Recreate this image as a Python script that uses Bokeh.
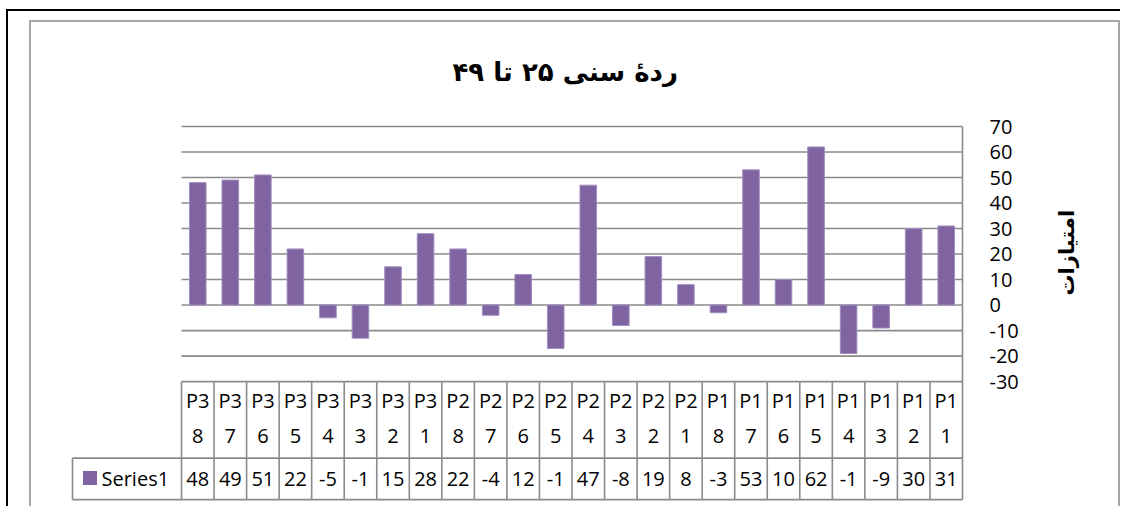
import math
from bokeh.plotting import figure
from bokeh.models import Range1d, FixedTicker
from bokeh.core.properties import value
from bokeh.embed import file_html
from bokeh.resources import INLINE

# ---------------- data ----------------
title_text = "ردهٔ سنی ۲۵ تا ۴۹"
y_label = "امتیازات"
series_name = "Series1"
categories = ["P38", "P37", "P36", "P35", "P34", "P33", "P32", "P31",
              "P28", "P27", "P26", "P25", "P24", "P23", "P22", "P21",
              "P18", "P17", "P16", "P15", "P14", "P13", "P12", "P11"]
scores = [48, 49, 51, 22, -5, -13, 15, 28,
          22, -4, 12, -17, 47, -8, 19, 8,
          -3, 53, 10, 62, -19, -9, 30, 31]
y_ticks = [-30, -20, -10, 0, 10, 20, 30, 40, 50, 60, 70]

# ---------------- styling / layout ----------------
W, H = 1120, 506
PURPLE = "#8064A2"
LINE = "#8a8a8a"
LW = 1.6
TXT_FONT = "Open Sans"
AR_FONT = "DejaVu Sans"

n = len(categories)
xs = [i + 0.5 for i in range(n)]
y_min, y_max = y_ticks[0], y_ticks[-1]
PX_X = 32.54          # pixels per category
PX_Y = 2.551          # pixels per score unit
legend_left = -(181 - 72) / PX_X
BORDER_L, BORDER_R, BORDER_T, BORDER_B = 70, 156, 89, 5
frame_h = H - BORDER_T - BORDER_B
y_end = y_max + (126 - BORDER_T) / PX_Y
y_start = y_end - frame_h / PX_Y

# data-table rows, expressed below the value axis
row_split = y_min - 76.5 / PX_Y
tab_bottom = y_min - 118 / PX_Y
hdr1_y = y_min - 19 / PX_Y
hdr2_y = y_min - 54.5 / PX_Y
val_y = y_min - 97 / PX_Y

p = figure(width=W, height=H, output_backend="svg", toolbar_location=None,
           x_range=Range1d(legend_left - 2 / PX_X, n + 2 / PX_X),
           y_range=Range1d(y_start, y_end),
           x_axis_location=None, y_axis_location="right",
           min_border_left=BORDER_L, min_border_right=BORDER_R,
           min_border_top=BORDER_T, min_border_bottom=BORDER_B)
p.outline_line_color = None
p.xgrid.visible = False
p.ygrid.visible = False
p.background_fill_color = None
p.border_fill_color = None

p.title.text = title_text
p.title.align = "left"
p.title.offset = 382
p.title.text_font = AR_FONT
p.title.text_font_style = "bold"
p.title.text_font_size = "26px"
p.title.text_color = "black"
if "standoff" in p.title.properties():
    p.title.standoff = 6

ax = p.yaxis[0]
ax.ticker = FixedTicker(ticks=y_ticks)
ax.major_label_overrides = {t: str(t) for t in y_ticks}
ax.axis_line_color = None
ax.major_tick_line_color = None
ax.minor_tick_line_color = None
ax.major_tick_out = 0
ax.major_tick_in = 0
ax.major_label_standoff = 25
ax.major_label_text_font = TXT_FONT
ax.major_label_text_font_size = "20px"
ax.major_label_text_color = "black"
ax.axis_label = y_label
ax.axis_label_standoff = 45
ax.axis_label_text_font = AR_FONT
ax.axis_label_text_font_style = "bold"
ax.axis_label_text_font_size = "21px"
ax.axis_label_text_color = "black"
if "axis_label_orientation" in ax.properties():
    try:
        ax.axis_label_orientation = math.pi / 2
    except Exception:
        pass

# gridlines over the plot area
p.segment(x0=[0] * len(y_ticks), x1=[n] * len(y_ticks), y0=y_ticks, y1=y_ticks,
          line_color=LINE, line_width=LW)
# right edge of plot area and table
p.segment(x0=[n], x1=[n], y0=[y_max], y1=[tab_bottom], line_color=LINE, line_width=LW)
# table column separators
p.segment(x0=list(range(n)), x1=list(range(n)), y0=[y_min] * n, y1=[tab_bottom] * n,
          line_color=LINE, line_width=LW)
# table row lines and legend cell edge
p.segment(x0=[legend_left, legend_left], x1=[n, n], y0=[row_split, tab_bottom],
          y1=[row_split, tab_bottom], line_color=LINE, line_width=LW)
p.segment(x0=[legend_left], x1=[legend_left], y0=[row_split], y1=[tab_bottom],
          line_color=LINE, line_width=LW)

# bars
p.vbar(x=xs, bottom=0, top=scores, width=0.51, fill_color=PURPLE,
       line_color="#a08fc0", line_width=1)

common = dict(text_align="center", text_baseline="middle", text_font=value(TXT_FONT),
              text_font_size="20px", text_color="black")
# header: narrow cells wrap "P38" as "P3" / "8"
p.text(x=xs, y=[hdr1_y] * n, text=[c[:2] for c in categories], **common)
p.text(x=xs, y=[hdr2_y] * n, text=[c[2:] for c in categories], **common)
# values: narrow cells clip long numbers
value_labels = [str(v)[:2] for v in scores]
p.text(x=xs, y=[val_y] * n, text=value_labels, **common)

# legend key
p.rect(x=[legend_left + 17.5 / PX_X], y=[val_y + 0.5 / PX_Y], width=14, height=14,
       width_units="screen", height_units="screen", fill_color=PURPLE, line_color=None)
p.text(x=[legend_left], y=[val_y], text=[series_name], x_offset=29,
       text_align="left", text_baseline="middle", text_font=value(TXT_FONT),
       text_font_size="20px", text_color="black")

# chart-area frames (outer black, inner grey) drawn as CSS background lines
p.styles = {
    "background-color": "white",
    "background-image": ", ".join(["linear-gradient(#000,#000)"] * 2 +
                                  ["linear-gradient(#a6a6a6,#a6a6a6)"] * 3),
    "background-size": "100% 2px, 2px 100%, 1091px 2px, 2px 100%, 2px 100%",
    "background-position": "6px 9px, 6px 9px, 29px 20px, 29px 20px, 1118px 20px",
    "background-repeat": "no-repeat",
}

open("out.html", "w").write(file_html(p, INLINE))
